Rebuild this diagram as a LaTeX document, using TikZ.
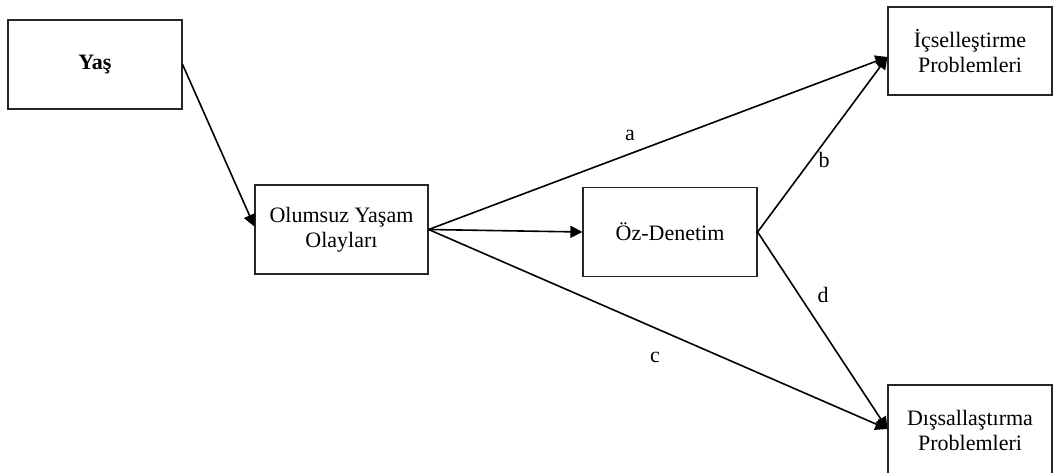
\documentclass[tikz,border=0pt]{standalone}
\usepackage{fontspec}
\setmainfont{Liberation Serif}
\usetikzlibrary{arrows.meta}
\begin{document}
\begin{tikzpicture}[x=1pt,y=-1pt,
  box/.style={draw=black!85,line width=1.2pt,rectangle,align=center,inner sep=0pt,
    font=\fontsize{22}{25}\selectfont},
  conn/.style={line width=1.6pt,-{Triangle[length=12pt,width=12pt]}},
  lbl/.style={font=\fontsize{22}{25}\selectfont,inner sep=0pt}]
\useasboundingbox (0,0) rectangle (1058,472);
\node[box,minimum width=174pt,minimum height=89pt,font=\fontsize{22}{25}\selectfont\bfseries] (yas) at (95,64.5) {Yaş};
\node[box,minimum width=173pt,minimum height=89pt] (olay) at (341.5,229.5) {Olumsuz Yaşam\\Olayları};
\node[box,minimum width=174pt,minimum height=89pt] (oz) at (670,232) {Öz-Denetim};
\node[box,minimum width=164pt,minimum height=88pt] (ic) at (970,51) {İçselleştirme\\Problemleri};
\node[box,minimum width=164pt,minimum height=90pt] (dis) at (970,430) {Dışsallaştırma\\Problemleri};
\draw[conn] (yas.east) -- ([yshift=3pt]olay.west);
\draw[conn] (olay.east) -- (oz.west);
\draw[conn] (olay.east) -- ([yshift=-6pt]ic.west);
\draw[conn] (oz.east) -- ([yshift=-6pt]ic.west);
\draw[conn] (olay.east) -- ([yshift=1pt]dis.west);
\draw[conn] (oz.east) -- ([yshift=1pt]dis.west);
\node[lbl] (la) at (630,135) {a};
\node[lbl] (lb) at (824,160) {b};
\node[lbl] (lc) at (655,357) {c};
\node[lbl] (ld) at (823,295) {d};
\end{tikzpicture}
\end{document}
